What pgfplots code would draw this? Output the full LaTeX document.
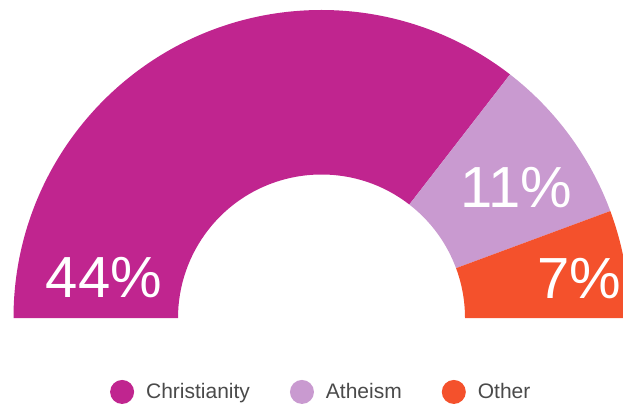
\documentclass[border=0pt]{standalone}
\usepackage{pgfplots}
\usepackage{pgfplotstable}
\pgfplotsset{compat=1.18}
\usepackage{fontspec}
\setmainfont{Liberation Sans}
\definecolor{cChr}{HTML}{C0258F}
\definecolor{cAth}{HTML}{C99AD0}
\definecolor{cOth}{HTML}{F4512C}
\definecolor{legtext}{HTML}{4A4A4A}

\pgfplotstableread{
label value
Christianity 44
Atheism 11
Other 7
}\religion

\begin{document}
\begin{tikzpicture}
\pgfplotstablegetelem{0}{value}\of\religion \pgfmathsetmacro{\vA}{\pgfplotsretval}
\pgfplotstablegetelem{1}{value}\of\religion \pgfmathsetmacro{\vB}{\pgfplotsretval}
\pgfplotstablegetelem{2}{value}\of\religion \pgfmathsetmacro{\vC}{\pgfplotsretval}
\pgfmathsetmacro{\tot}{\vA+\vB+\vC}
\pgfmathsetmacro{\aA}{180-180*\vA/\tot}
\pgfmathsetmacro{\aB}{\aA-180*\vB/\tot}
\def\R{308}
\def\r{143.5}
\begin{axis}[
  scale only axis, width=623pt, height=407pt,
  xmin=0, xmax=623, ymin=0, ymax=407,
  hide axis,
  legend columns=3,
  legend style={at={(0.514,0.037)}, anchor=center, draw=none, fill=none,
    font=\fontsize{21}{21}\selectfont\color{legtext},
    nodes={inner sep=0pt},
    /tikz/every even column/.append style={column sep=40pt}},
]
\coordinate (bl) at (axis cs:0,0);
\coordinate (tr) at (axis cs:623,407);
\fill[cChr, shift={(axis cs:321.5,89)}] (180:\R pt) arc[start angle=180, end angle=\aA, radius=\R pt] -- (\aA:\r pt) arc[start angle=\aA, end angle=180, radius=\r pt] -- cycle;
\fill[cAth, shift={(axis cs:321.5,89)}] (\aA:\R pt) arc[start angle=\aA, end angle=\aB, radius=\R pt] -- (\aB:\r pt) arc[start angle=\aB, end angle=\aA, radius=\r pt] -- cycle;
\fill[cOth, shift={(axis cs:321.5,89)}] (\aB:\R pt) arc[start angle=\aB, end angle=0, radius=\R pt] -- (0:\r pt) arc[start angle=0, end angle=\aB, radius=\r pt] -- cycle;
\node[white, anchor=base, font=\fontsize{58}{58}\selectfont] at (axis cs:104,110) {44\%};
\node[white, anchor=base, font=\fontsize{58}{58}\selectfont] at (axis cs:516,199) {11\%};
\node[white, anchor=base, font=\fontsize{58}{58}\selectfont] at (axis cs:579,109) {7\%};
\addlegendimage{legend image code/.code={\fill[cChr, draw=none] (12pt,0pt) circle (12pt); \path[draw=none, fill=none] (0pt,0pt) -- (36pt,0pt);}}
\addlegendentry{Christianity}
\addlegendimage{legend image code/.code={\fill[cAth, draw=none] (12pt,0pt) circle (12pt); \path[draw=none, fill=none] (0pt,0pt) -- (36pt,0pt);}}
\addlegendentry{Atheism}
\addlegendimage{legend image code/.code={\fill[cOth, draw=none] (12pt,0pt) circle (12pt); \path[draw=none, fill=none] (0pt,0pt) -- (36pt,0pt);}}
\addlegendentry{Other}
\end{axis}
\pgfresetboundingbox
\path (bl) rectangle (tr);
\end{tikzpicture}
\end{document}
